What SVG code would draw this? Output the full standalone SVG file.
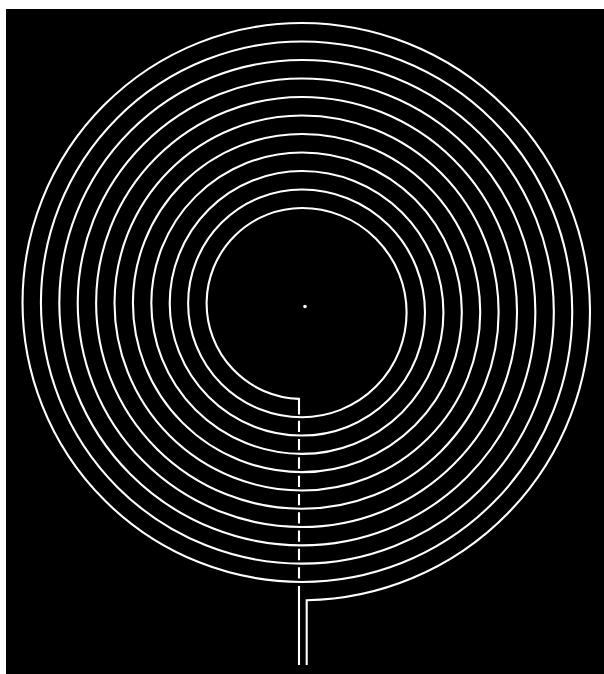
<svg xmlns="http://www.w3.org/2000/svg" width="604" height="674" viewBox="0 0 604 674">
  <style>
    .wire { fill: none; stroke: #ffffff; stroke-width: 2.1; stroke-linejoin: miter; stroke-linecap: butt; }
  </style>
  <rect x="0" y="0" width="604" height="674" fill="#ffffff"/>
  <rect id="panel" x="6" y="9" width="598" height="665" fill="#000000"/>
  <g id="spiral">
    <path class="wire" d="M 299 414.5 L 299 398.9
      A 95.475 95.475 0 0 1 302 208
      A 104.625 104.625 0 0 1 302 417.25
      A 113.875 113.875 0 0 1 302 189.5
      A 123.025 123.025 0 0 1 302 435.55
      A 132.275 132.275 0 0 1 302 171
      A 141.425 141.425 0 0 1 302 453.85
      A 150.675 150.675 0 0 1 302 152.5
      A 159.825 159.825 0 0 1 302 472.15
      A 169.075 169.075 0 0 1 302 134
      A 178.225 178.225 0 0 1 302 490.45
      A 187.475 187.475 0 0 1 302 115.5
      A 196.625 196.625 0 0 1 302 508.75
      A 205.875 205.875 0 0 1 302 97
      A 215.025 215.025 0 0 1 302 527.05
      A 224.275 224.275 0 0 1 302 78.5
      A 233.425 233.425 0 0 1 302 545.35
      A 242.675 242.675 0 0 1 302 60
      A 251.825 251.825 0 0 1 302 563.65
      A 261.075 261.075 0 0 1 302 41.5
      A 270.225 270.225 0 0 1 302 581.95
      A 279.475 279.475 0 0 1 302 23
      A 288.625 288.625 0 0 1 306.7 600.2
      L 306.7 665"/>
  </g>
  <g id="inner-lead">
    <path class="wire" d="M 299 420.75 L 299 432.05
      M 299 439.05 L 299 450.35
      M 299 457.35 L 299 468.65
      M 299 475.65 L 299 486.95
      M 299 493.95 L 299 505.25
      M 299 512.25 L 299 523.55
      M 299 530.55 L 299 541.85
      M 299 548.85 L 299 560.15
      M 299 567.15 L 299 578.45
      M 299 586 L 299 665"/>
  </g>
  <circle id="center-dot" cx="305" cy="306.5" r="1.8" fill="#ffffff"/>
</svg>
